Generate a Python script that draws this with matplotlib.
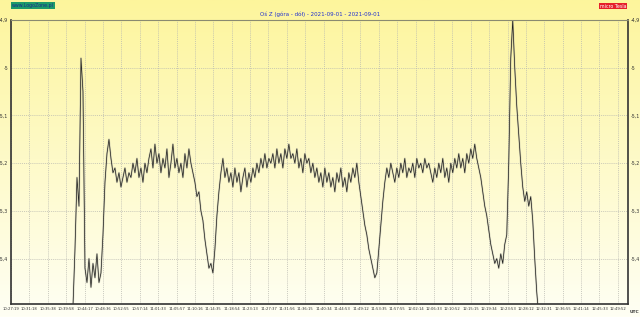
import matplotlib.pyplot as plt
import matplotlib.colors as mcolors
import numpy as np

# tick labels (UTC), one every 4 min 19 s
tick_labels = ['10:27:19', '10:31:18', '10:35:38', '10:39:58', '10:44:17', '10:48:36',
               '10:52:55', '10:57:14', '11:01:33', '11:05:57', '11:10:16', '11:14:35',
               '11:18:54', '11:23:13', '11:27:37', '11:31:56', '11:36:15', '11:40:34',
               '11:44:53', '11:49:12', '11:53:35', '11:57:55', '12:02:14', '12:06:33',
               '12:10:52', '12:15:15', '12:19:34', '12:23:53', '12:28:12', '12:32:31',
               '12:36:55', '12:41:14', '12:45:33', '12:49:52']
tick_step = 4.3167          # minutes between labels
y_ticks = [-4.9, -5.0, -5.1, -5.2, -5.3, -5.4]

# Z axis readings, minutes since 10:27:19
t_start = 14.55
t_step = 0.4692
bz = [-5.50, -5.38, -5.23, -5.29, -4.98, -5.05, -5.42, -5.45, -5.40, -5.46,
      -5.41, -5.44, -5.39, -5.45, -5.43, -5.35, -5.24, -5.18, -5.15, -5.19,
      -5.22, -5.21, -5.24, -5.22, -5.25, -5.23, -5.21, -5.24, -5.22, -5.23,
      -5.20, -5.22, -5.19, -5.23, -5.21, -5.24, -5.20, -5.22, -5.19, -5.17,
      -5.21, -5.16, -5.20, -5.18, -5.22, -5.19, -5.21, -5.17, -5.23, -5.20,
      -5.16, -5.21, -5.19, -5.22, -5.20, -5.23, -5.18, -5.21, -5.17, -5.20,
      -5.22, -5.24, -5.27, -5.26, -5.30, -5.32, -5.36, -5.39, -5.42, -5.41,
      -5.43, -5.38, -5.31, -5.26, -5.22, -5.19, -5.23, -5.21, -5.24, -5.22,
      -5.25, -5.21, -5.24, -5.22, -5.26, -5.23, -5.21, -5.25, -5.22, -5.24,
      -5.21, -5.23, -5.20, -5.22, -5.19, -5.21, -5.18, -5.21, -5.19, -5.20,
      -5.18, -5.21, -5.17, -5.20, -5.18, -5.21, -5.17, -5.19, -5.16, -5.19,
      -5.18, -5.20, -5.17, -5.21, -5.19, -5.22, -5.18, -5.20, -5.19, -5.22,
      -5.20, -5.23, -5.21, -5.24, -5.22, -5.25, -5.21, -5.24, -5.22, -5.25,
      -5.23, -5.26, -5.22, -5.24, -5.21, -5.25, -5.23, -5.26, -5.22, -5.24,
      -5.21, -5.23, -5.20, -5.24, -5.27, -5.30, -5.33, -5.35, -5.38, -5.40,
      -5.42, -5.44, -5.43, -5.38, -5.33, -5.28, -5.24, -5.21, -5.23, -5.20,
      -5.22, -5.24, -5.21, -5.23, -5.20, -5.22, -5.19, -5.23, -5.21, -5.22,
      -5.20, -5.23, -5.19, -5.21, -5.20, -5.22, -5.19, -5.21, -5.20, -5.22,
      -5.24, -5.21, -5.23, -5.20, -5.22, -5.19, -5.23, -5.21, -5.24, -5.20,
      -5.22, -5.19, -5.21, -5.18, -5.21, -5.19, -5.22, -5.18, -5.20, -5.17,
      -5.19, -5.16, -5.19, -5.21, -5.23, -5.26, -5.29, -5.31, -5.34, -5.37,
      -5.39, -5.41, -5.40, -5.42, -5.39, -5.41, -5.37, -5.35, -5.20, -4.98,
      -4.90, -5.00, -5.08, -5.14, -5.20, -5.25, -5.28, -5.26, -5.29, -5.27,
      -5.32, -5.40, -5.47, -5.52]

t = t_start + t_step * np.arange(len(bz))

fig = plt.figure(figsize=(6.4, 3.17), dpi=100)

# background gradient, yellow at the top fading to near white
bg = fig.add_axes([0, 0, 1, 1])
cmap = mcolors.LinearSegmentedColormap.from_list('bg', ['#fffff4', '#fdf59c'])
bg.imshow(np.linspace(0, 1, 256).reshape(-1, 1), aspect='auto', cmap=cmap,
          origin='lower', extent=[0, 1, 0, 1])
bg.axis('off')

ax = fig.add_axes([11/640, 1 - 304/317, 617/640, 284/317])
ax.patch.set_alpha(0)
ax.plot(t, bz, color='#b0b0a0', lw=1.4, alpha=0.5)
ax.plot(t, bz, color='#1a1a1a', lw=0.5)

ax.set_xlim(0, 33.55 * tick_step)
ax.set_ylim(-5.495, -4.9)
ax.set_xticks(np.arange(len(tick_labels)) * tick_step)
ax.set_xticklabels(tick_labels, fontsize=2.7, color='#333333')
ax.set_yticks(y_ticks)
ax.set_yticklabels([f'{v:.1f}'.replace('.', ',') if v != -5.0 else '-5' for v in y_ticks],
                   fontsize=3.4, color='#333333')
ax.tick_params(axis='both', length=0, pad=2)
ax.tick_params(axis='y', labelright=True, right=True)
ax.grid(True, color='#b8b8b0', lw=0.5, ls=(0, (1.5, 1.5)))
for side in ['left', 'bottom', 'right']:
    ax.spines[side].set_color('#333333')
    ax.spines[side].set_linewidth(1.2)
ax.spines['top'].set_color('#8a8a70')
ax.spines['top'].set_linewidth(0.8)

fig.text(0.5, 1 - 14/317, 'Oś Z (góra - dół) - 2021-09-01 - 2021-09-01',
         ha='center', va='center', fontsize=4.0, color='#2030d0')
fig.text(12/640, 1 - 5.5/317, 'www.LogoZone.pl', ha='left', va='center',
         fontsize=3.4, color='#1a2a8a',
         bbox=dict(boxstyle='square,pad=0.15', fc='#1e9a6a', ec='none'))
fig.text(626/640, 1 - 6/317, 'micro Tesla', ha='right', va='center',
         fontsize=3.4, color='white',
         bbox=dict(boxstyle='square,pad=0.15', fc='#e5202a', ec='none'))
fig.text(634/640, 1 - 312/317, 'UTC', ha='center', va='center',
         fontsize=3.2, color='#333333', fontweight='bold')

plt.savefig('out.png', dpi=100)
